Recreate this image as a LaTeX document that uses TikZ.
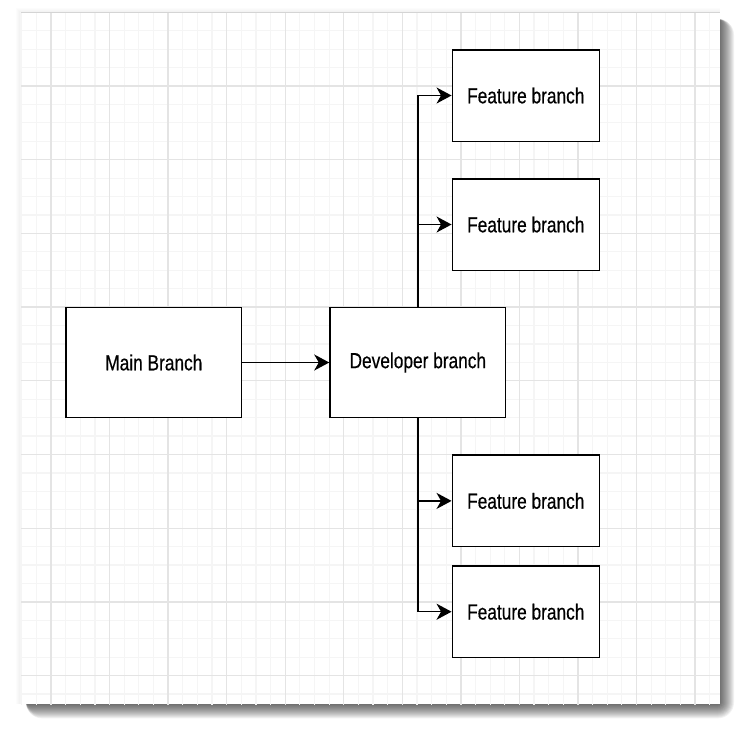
\documentclass[tikz,border=0pt]{standalone}
\usepackage{fontspec}
\setmainfont{Liberation Sans}
\newfontfamily\labelfont{Liberation Sans}[FakeBold=0.5]
\usepackage{graphicx}
\usetikzlibrary{arrows.meta}
\definecolor{minorgrid}{RGB}{245,245,245}
\definecolor{majorgrid}{RGB}{228,228,228}
\definecolor{framegray}{RGB}{212,212,212}
\newcommand{\vtext}[1]{\scalebox{1}[1.26]{#1}}
\tikzset{
  box/.style={draw=black, line width=1.5pt, fill=white, minimum width=175.7pt,
    minimum height=110.4pt, inner sep=0pt, font=\labelfont\fontsize{17.3}{20}\selectfont},
  featbox/.style={box, minimum width=147pt, minimum height=91.5pt},
  arr/.style={line width=1.5pt, -{Stealth[length=15pt,width=16pt,inset=4.5pt]}},
  minorline/.style={draw=minorgrid, line width=1.2pt},
  majorline/.style={draw=majorgrid, line width=1.3pt},
  shadowlayer/.style={fill=black, fill opacity=0.055},
}
\begin{document}
\begin{tikzpicture}[x=1pt,y=-1pt]
\useasboundingbox (0,0) rectangle (754,732);
% shadow (stacked translucent layers)
\foreach \r in {0,...,16}
  \fill[shadowlayer, rounded corners={\r pt}] (26,19) rectangle ({718+\r},{702.3+\r});
% faint halo on left/top
\foreach \r in {1,...,4}
  \fill[black, fill opacity=0.012] ({20-\r},{12.3-\r}) rectangle (720,704.3);
% canvas
\fill[white] (20,12.3) rectangle (720,704.3);
% grid
\begin{scope}
  \clip (20,12.3) rectangle (720,704.3);
  \foreach \i in {-2,...,46} \draw[minorline] ({51+14.6375*\i},12) -- ++(0,693);
  \foreach \j in {0,...,38} \draw[minorline] (20,{12.3+18.425*\j}) -- ++(700,0);
  \foreach \i in {0,...,11} \draw[majorline] ({51+58.55*\i},12) -- ++(0,693);
  \foreach \j in {0,...,9} \draw[majorline] (20,{12.3+73.7*\j}) -- ++(700,0);
\end{scope}
\draw[framegray, line width=1.2pt] (20,12.3) -- (720,12.3);
\draw[minorgrid, line width=1pt] (20.5,12.3) -- (20.5,704.3);
% nodes
\node[box] (main) at (153.85,362.5) {\vtext{Main Branch}};
\node[box] (dev) at (417.85,362.5) {\vtext{Developer branch}};
\node[featbox] (f1) at (525.8,95.5) {\vtext{Feature branch}};
\node[featbox] (f2) at (525.8,224.5) {\vtext{Feature branch}};
\node[featbox] (f3) at (525.8,500.9) {\vtext{Feature branch}};
\node[featbox] (f4) at (525.8,611.7) {\vtext{Feature branch}};
% connectors
\draw[arr] (main) -- (dev);
\draw[arr] (dev.north) |- (f1);
\draw[arr] (dev.north) |- (f2);
\draw[arr] (dev.south) |- (f3);
\draw[arr] (dev.south) |- (f4);
\end{tikzpicture}
\end{document}
